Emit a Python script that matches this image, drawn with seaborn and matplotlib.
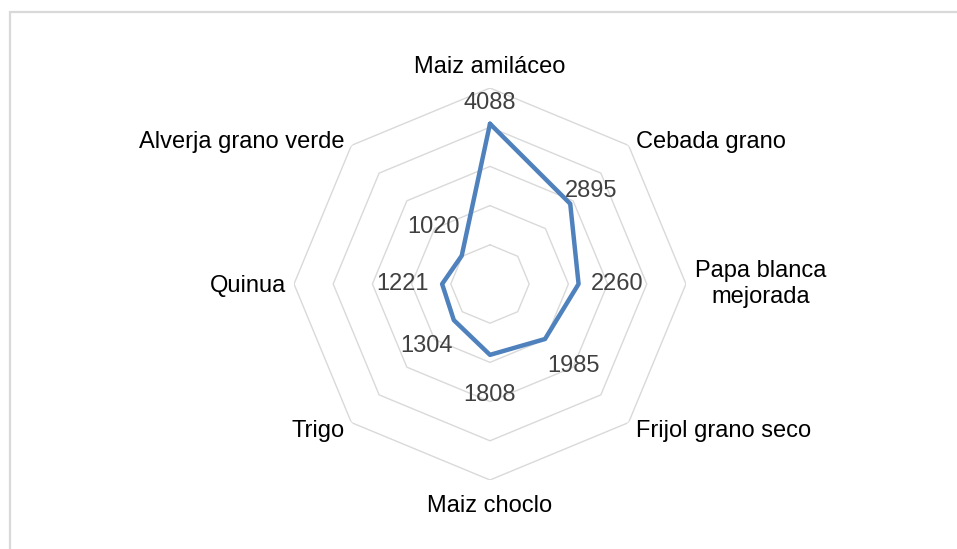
import numpy as np
import pandas as pd
import seaborn as sns
import matplotlib.pyplot as plt
from matplotlib.patches import Rectangle

# datos del grafico radial
cultivos = ["Maiz amiláceo", "Cebada grano", "Papa blanca\nmejorada", "Frijol grano seco",
            "Maiz choclo", "Trigo", "Quinua", "Alverja grano verde"]
valores = [4088, 2895, 2260, 1985, 1808, 1304, 1221, 1020]
niveles = [1000, 2000, 3000, 4000, 5000]

sns.set_theme(style="white")
plt.rcParams['font.family'] = ['Liberation Sans', 'DejaVu Sans']

n = len(cultivos)
angulos = np.linspace(0, 2 * np.pi, n, endpoint=False)
df = pd.DataFrame({"angulo": np.append(angulos, 2 * np.pi),
                   "valor": valores + valores[:1]})

fig = plt.figure(figsize=(9.57, 5.49), dpi=100)
ax = fig.add_axes([0.3072, 0.1257, 0.4096, 0.7140], projection="polar")
ax.set_theta_zero_location("N")
ax.set_theta_direction(-1)
ax.set_ylim(0, 5000)
ax.grid(False)
ax.set_xticks([])
ax.set_yticks([])
ax.spines["polar"].set_visible(False)
ax.patch.set_alpha(0)

# rejilla octogonal
for r in niveles:
    ax.plot(np.append(angulos, 2 * np.pi), [r] * (n + 1), color="#D9D9D9", lw=1.0, zorder=1)

sns.lineplot(data=df, x="angulo", y="valor", sort=False, estimator=None, ax=ax,
             color="#4F81BD", lw=3.2, zorder=3)
ax.set_xlabel("")
ax.set_ylabel("")

# etiquetas de valores
off_val = [(0, 21), (21, 13), (39, 0), (28, -27), (0, -40), (-27, -26), (-40, 0), (-28, 29)]
for a, v, o in zip(angulos, valores, off_val):
    ax.annotate(str(v), (a, v), xytext=o, textcoords="offset pixels",
                ha="center", va="center", fontsize=17, color="#404040")

# etiquetas de categorias
pos_cat = [((0, 15), "center", "baseline"), ((7, -3), "left", "baseline"),
           ((9, 0), "left", "center"), ((7, 3), "left", "top"),
           ((0, -15), "center", "top"), ((-7, 3), "right", "top"),
           ((-8, -8), "right", "baseline"), ((-7, -3), "right", "baseline")]
for a, c, (o, ha, va) in zip(angulos, cultivos, pos_cat):
    ax.annotate(c, (a, niveles[-1]), xytext=o, textcoords="offset pixels",
                ha=ha, va=va, multialignment="center", fontsize=17, color="black")

fig.patches.append(Rectangle((10 / 957, -0.1), 1.2, 1 - 12 / 549 + 0.1, transform=fig.transFigure,
                             fill=False, edgecolor="#D9D9D9", lw=1.6))

plt.savefig("out.png", dpi=100)
